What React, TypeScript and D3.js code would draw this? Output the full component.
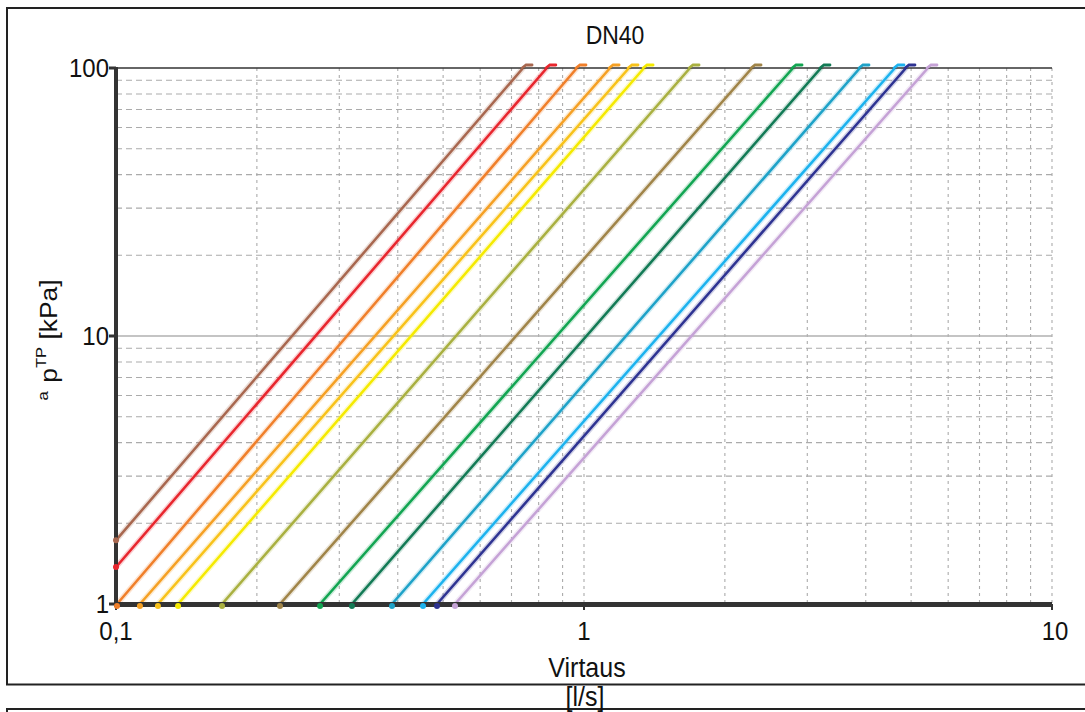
import React from "react";
import * as d3 from "d3";

// flow [l/s] where each curve hits 1 kPa and 100 kPa
const flowAt1kPa = [0.0763, 0.0855, 0.1005, 0.1125, 0.1229, 0.1357, 0.1685, 0.2241, 0.2729, 0.3193, 0.3888, 0.4529, 0.4852, 0.5301];
const flowAt100kPa = [0.741, 0.833, 0.966, 1.137, 1.248, 1.344, 1.685, 2.286, 2.797, 3.209, 3.888, 4.618, 4.875, 5.433];
const lineColors = [
  "#a8674f", "#e8262e", "#f07f2a", "#f5a024", "#f8c21a", "#f5ea00", "#a9b040",
  "#a08448", "#12a552", "#127a55", "#1ea2c8", "#1cb2ee", "#2e3392", "#c5a2d6",
];
const xTickValues = [0.1, 1, 10];
const yTickValues = [1, 10, 100];

const W = 1085;
const H = 712;
const FONT = "'Liberation Sans', Arial, sans-serif";

const fiLocale = d3.formatLocale({ decimal: ",", thousands: " ", grouping: [3], currency: ["", ""] });
const fmt = fiLocale.format("~g");

// text in the original is a little taller than wide
const Label = ({ x, y, anchor = "middle", size = 24, children }: any) => (
  <text transform={`translate(${x},${y}) scale(1,1.1)`} textAnchor={anchor} fontSize={size} fill="#111">
    {children}
  </text>
);

const App = () => {
  const x = d3.scaleLog().domain([0.1, 10]).range([116, 1052]);
  const y = d3.scaleLog().domain([1, 100]).range([604, 68]);
  const [x0, x1] = x.range();
  const [y0, y1] = y.range();

  const minorX = x.ticks().filter(t => !xTickValues.some(v => Math.abs(v - t) < 1e-9));
  const minorY = y.ticks().filter(t => !yTickValues.some(v => Math.abs(v - t) < 1e-9));

  const line = d3.line<[number, number]>().x(d => x(d[0])).y(d => y(d[1]));

  const curves = flowAt1kPa.map((q1, i) => {
    const q100 = flowAt100kPa[i];
    let start: [number, number] = [q1, 1];
    if (q1 < 0.1) {
      const t = (Math.log10(0.1) - Math.log10(q1)) / (Math.log10(q100) - Math.log10(q1));
      start = [0.1, Math.pow(10, 2 * t)];
    }
    return { color: lineColors[i], pts: [[q1, 1], [q100, 100]] as [number, number][], start, q100 };
  });

  return (
    <div style={{ position: "fixed", left: 0, top: 0, background: "#fff" }}>
      <svg width={W} height={H} style={{ display: "block" }} fontFamily={FONT}>
        <rect width={W} height={H} fill="#fff" />
        <defs>
          <clipPath id="plotClip">
            <rect x={x0} y={y1} width={x1 - x0} height={y0 - y1} />
          </clipPath>
        </defs>

        {/* frames */}
        <path d={`M${W + 5},8 H7 V684.5 H${W + 5}`} fill="none" stroke="#222" strokeWidth={2} />
        <path d={`M${W + 5},709 H7 V${H + 5}`} fill="none" stroke="#222" strokeWidth={2} />

        {/* grid */}
        <g stroke="#ababab" strokeWidth={1.1} fill="none">
          {minorY.map(t => (
            <line key={"gy" + t} x1={x0} x2={x1} y1={y(t)} y2={y(t)} strokeDasharray="6 4" />
          ))}
          {minorX.map(t => (
            <line key={"gx" + t} x1={x(t)} x2={x(t)} y1={y1} y2={y0} strokeDasharray="3 4" />
          ))}
          <line x1={x(1)} x2={x(1)} y1={y1} y2={y0} strokeDasharray="3 4" />
          <line x1={x(10)} x2={x(10)} y1={y1} y2={y0} strokeDasharray="3 4" />
          <line x1={x0} x2={x1} y1={y(10)} y2={y(10)} stroke="#b0b0b0" strokeWidth={1.5} />
        </g>

        {/* curves */}
        <g clipPath="url(#plotClip)" fill="none" strokeLinecap="round">
          {curves.map((c, i) => (
            <g key={"c" + i}>
              <path d={line(c.pts) || ""} stroke={c.color} strokeWidth={5.5} strokeOpacity={0.22} />
              <path d={line(c.pts) || ""} stroke={c.color} strokeWidth={2.5} />
            </g>
          ))}
        </g>

        {/* axes */}
        <line x1={x0} x2={x1} y1={y1} y2={y1} stroke="#333" strokeWidth={1.6} />
        <line x1={x0} x2={x0} y1={y1 - 1} y2={y0} stroke="#333" strokeWidth={4} />
        <line x1={x0 - 2} x2={x1} y1={y0 + 0.5} y2={y0 + 0.5} stroke="#333" strokeWidth={5} />
        {yTickValues.map(t => (
          <line key={"yt" + t} x1={x0 - 7} x2={x0} y1={y(t)} y2={y(t)} stroke="#333" strokeWidth={3} />
        ))}
        {xTickValues.map(t => (
          <line key={"xt" + t} x1={x(t)} x2={x(t)} y1={y0} y2={y0 + 6} stroke="#333" strokeWidth={2} />
        ))}

        {/* end markers */}
        {curves.map((c, i) => (
          <g key={"m" + i} fill="none" stroke={c.color} strokeWidth={2.8} strokeLinecap="round">
            <circle cx={x(c.start[0])} cy={c.start[0] === 0.1 ? y(c.start[1]) : y0 + 2} r={3} fill={c.color} stroke="none" />
            <path d={`M${x(c.q100) - 1},${y1} L${x(c.q100) + 3},${y1 - 3} H${x(c.q100) + 9}`} />
          </g>
        ))}

        {/* tick labels */}
        {yTickValues.map(t => (
          <Label key={"yl" + t} x={109} y={y(t) + 9} anchor="end" size={24}>
            {fmt(t)}
          </Label>
        ))}
        {xTickValues.map(t => (
          <Label key={"xl" + t} x={x(t) + (t === 10 ? 3 : 0)} y={640} size={24}>
            {fmt(t)}
          </Label>
        ))}

        {/* titles */}
        <Label x={615} y={44} size={23}>DN40</Label>
        <Label x={587} y={677} size={25}>Virtaus</Label>
        <Label x={585} y={706} size={25}>[l/s]</Label>
        <text transform="translate(57,340) rotate(-90) scale(1.1,1)" textAnchor="middle" fontSize={24} fill="#111">
          <tspan fontSize={15} dy={-9}>a</tspan>
          <tspan dx={8} dy={9}>p</tspan>
          <tspan fontSize={15} dy={-11}>TP</tspan>
          <tspan dy={11}> [kPa]</tspan>
        </text>
      </svg>
    </div>
  );
};

export default App;
